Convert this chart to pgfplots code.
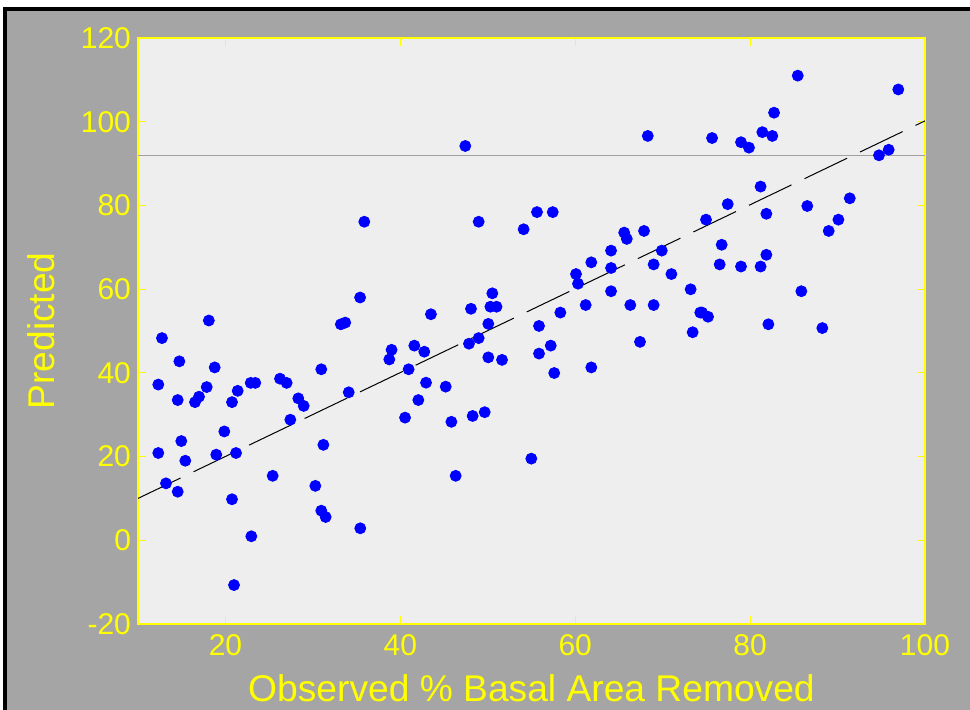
\documentclass[border=0pt]{standalone}
\usepackage{pgfplots}
\pgfplotsset{compat=1.18}
\usepackage{fontspec}
\setmainfont{Liberation Sans}
\definecolor{outer}{RGB}{165,165,165}
\definecolor{inner}{RGB}{238,238,238}
\definecolor{yel}{RGB}{255,255,0}
\definecolor{refl}{RGB}{160,160,160}
\begin{document}
\begin{tikzpicture}
\useasboundingbox (0,0) rectangle (485pt,355pt);
\fill[white] (0,0) rectangle (485pt,355pt);
\fill[outer] (2.5pt,0) rectangle (485pt,350.5pt);
\draw[black,line width=1.75pt] (2.5pt,-1pt) -- (2.5pt,350.5pt) -- (486pt,350.5pt);
\begin{axis}[
 at={(69pt,43pt)}, anchor=south west,
 scale only axis, width=393.5pt, height=293pt,
 xmin=10,xmax=100,ymin=-20,ymax=120,
 xtick={20,40,60,80,100}, ytick={-20,0,20,40,60,80,100,120},
 axis background/.style={fill=inner},
 axis line style={yel,line width=1pt},
 major tick length=4.2pt,
 every tick/.style={yel,line width=0.5pt},
 tick label style={yel,font=\fontsize{15}{18}\selectfont},
 /pgf/number format/assume math mode=true,
 xticklabel style={yshift=-1.8pt},
 label style={yel,font=\fontsize{18.6}{22}\selectfont},
 xlabel={Observed \% Basal Area Removed},
 ylabel={Predicted},
 xlabel style={at={(axis description cs:0.5,-0.1326)},anchor=base},
 ylabel style={at={(axis description cs:-0.1055,0.5)},anchor=base},
]
\addplot[refl,line width=0.5pt] coordinates {(10,92) (100,92)};
\addplot[black,line width=0.5pt,dash pattern=on 23.6pt off 7.2pt] coordinates {(10,10) (100,100.2)};
\addplot[only marks,mark=*,mark size=2.75pt,blue,mark options={draw=blue,fill=blue}] table {
x y
12.74 48.3
14.73 42.75
12.32 37.2
18.77 41.3
17.86 36.6
14.54 33.5
16.52 33.0
16.98 34.3
20.75 33.0
21.40 35.7
22.89 37.6
23.41 37.6
26.24 38.6
27.0 37.6
30.96 40.85
28.33 33.9
28.95 32.1
27.42 28.8
34.1 35.35
39.0 45.5
38.74 43.2
41.6 46.5
42.74 45.05
40.95 40.85
42.94 37.65
42.06 33.5
40.54 29.3
14.95 23.7
12.32 20.85
15.41 19.0
19.87 26.0
18.95 20.45
21.21 20.85
13.2 13.6
14.54 11.6
20.75 9.8
25.4 15.4
31.2 22.8
30.28 13.0
30.96 7.07
31.46 5.56
35.42 2.86
22.96 0.95
20.98 -10.7
35.88 76.1
35.4 58.0
18.1 52.5
33.2 51.6
33.7 52.0
43.5 54.0
47.43 94.2
68.3 96.6
48.96 76.1
55.63 78.4
57.43 78.4
54.1 74.3
65.6 73.5
65.9 72.0
67.87 73.9
64.1 69.2
69.9 69.2
61.84 66.4
64.1 65.05
68.97 65.9
71.0 63.6
60.09 63.6
60.32 61.3
73.2 59.96
64.1 59.5
50.52 59.0
50.3 55.8
51.0 55.8
48.08 55.3
61.2 56.2
66.3 56.2
68.97 56.2
58.3 54.4
50.06 51.7
55.86 51.2
74.3 54.4
73.43 49.7
67.41 47.4
47.85 46.96
48.96 48.3
50.06 43.7
51.63 43.1
55.86 44.6
57.2 46.5
57.6 39.96
61.84 41.3
45.19 36.7
45.84 28.3
48.27 29.7
49.65 30.6
54.98 19.5
46.33 15.4
85.45 111.0
96.95 107.7
82.74 102.15
75.65 96.1
81.4 97.5
82.54 96.6
78.96 95.1
79.87 93.8
94.74 91.97
95.85 93.3
81.2 84.5
77.44 80.3
86.54 79.86
91.4 81.7
81.86 78.0
74.96 76.6
90.1 76.6
88.99 73.9
76.75 70.6
76.52 65.9
78.96 65.4
81.2 65.4
81.86 68.2
85.86 59.5
74.5 54.4
75.19 53.4
82.09 51.6
88.26 50.7
};
\end{axis}
\end{tikzpicture}
\end{document}
